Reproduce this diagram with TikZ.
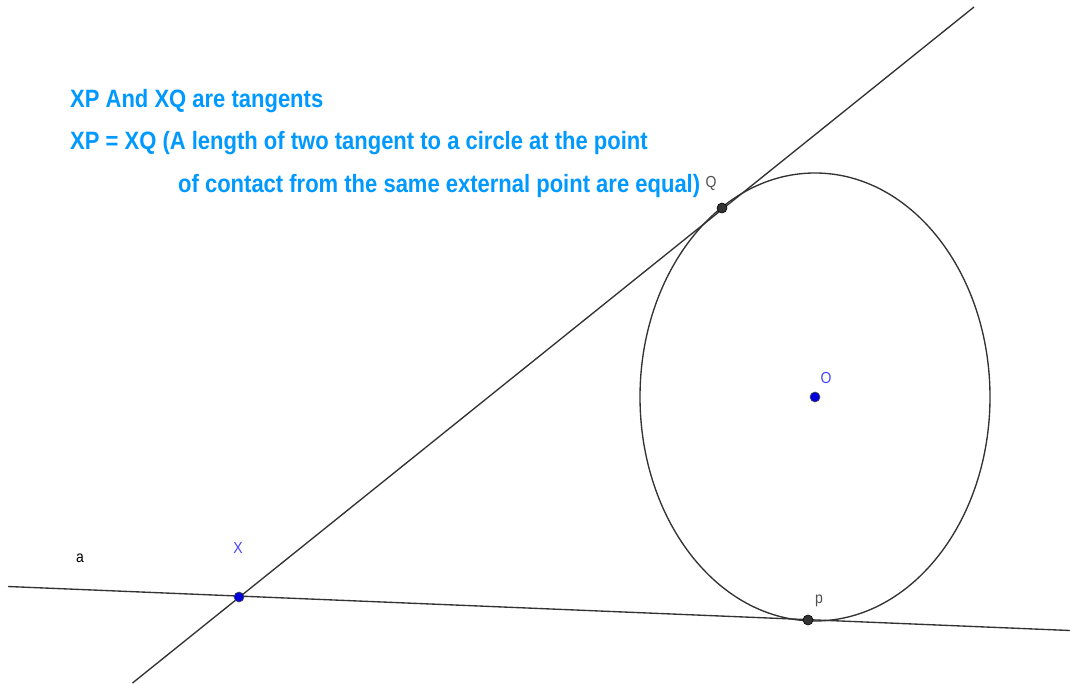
\documentclass[tikz,border=0pt]{standalone}
\usepackage{fontspec}
\setmainfont{Liberation Sans}
\definecolor{txtblue}{RGB}{0,153,255}
\definecolor{ptblue}{RGB}{0,0,220}
\definecolor{lblblue}{RGB}{70,70,255}
\definecolor{linegray}{RGB}{51,51,51}
\definecolor{lblgray}{RGB}{80,80,80}
\begin{document}
\begin{tikzpicture}[x=1pt,y=-1pt,
  geo/.style={draw=linegray,line width=1.35pt},
  freept/.style={circle,draw=black!70,fill=ptblue,line width=0.6pt,inner sep=0pt,minimum size=10pt},
  fixpt/.style={circle,draw=black,fill=linegray,line width=0.6pt,inner sep=0pt,minimum size=10pt},
  info/.style={text=txtblue,font=\fontsize{22}{22}\selectfont\bfseries,anchor=base west,inner sep=0pt,yscale=1.14,transform shape},
  lbl/.style={font=\fontsize{14}{14}\selectfont,inner sep=0pt,yscale=1.14,transform shape}]
\useasboundingbox (0,0) rectangle (1070,684);
\fill[white] (0,0) rectangle (1070,684);
% geometry
\coordinate (O) at (815,397);
\coordinate (aL) at (8,586.5);
\coordinate (aR) at (1070,630.5);
\coordinate (tL) at (132.5,683);
\coordinate (tR) at (974,7);
\draw[geo] (aL) -- (aR);
\draw[geo] (tL) -- (tR);
\draw[geo] (O) ellipse [x radius=175, y radius=224];
% points
\node[freept] (X) at (239,597) {};
\node[fixpt] (Q) at (722,208) {};
\node[fixpt] (P) at (808,620) {};
\node[freept] (Oc) at (815,397) {};
% labels
\node[lbl,text=black] (la) at (80,558) {a};
\node[lbl,text=lblblue] (lX) at (238,548) {X};
\node[lbl,text=lblgray] (lQ) at (711,183) {Q};
\node[lbl,text=lblblue] (lO) at (826,378) {O};
\node[lbl,text=lblgray] (lP) at (819,601) {p};
% text
\node[info] (t1) at (70,108) {XP And XQ are tangents};
\node[info] (t2) at (70,150) {XP = XQ (A length of two tangent to a circle at the point};
\node[info] (t3) at (178,193) {of contact from the same external point are equal)};
\end{tikzpicture}
\end{document}
